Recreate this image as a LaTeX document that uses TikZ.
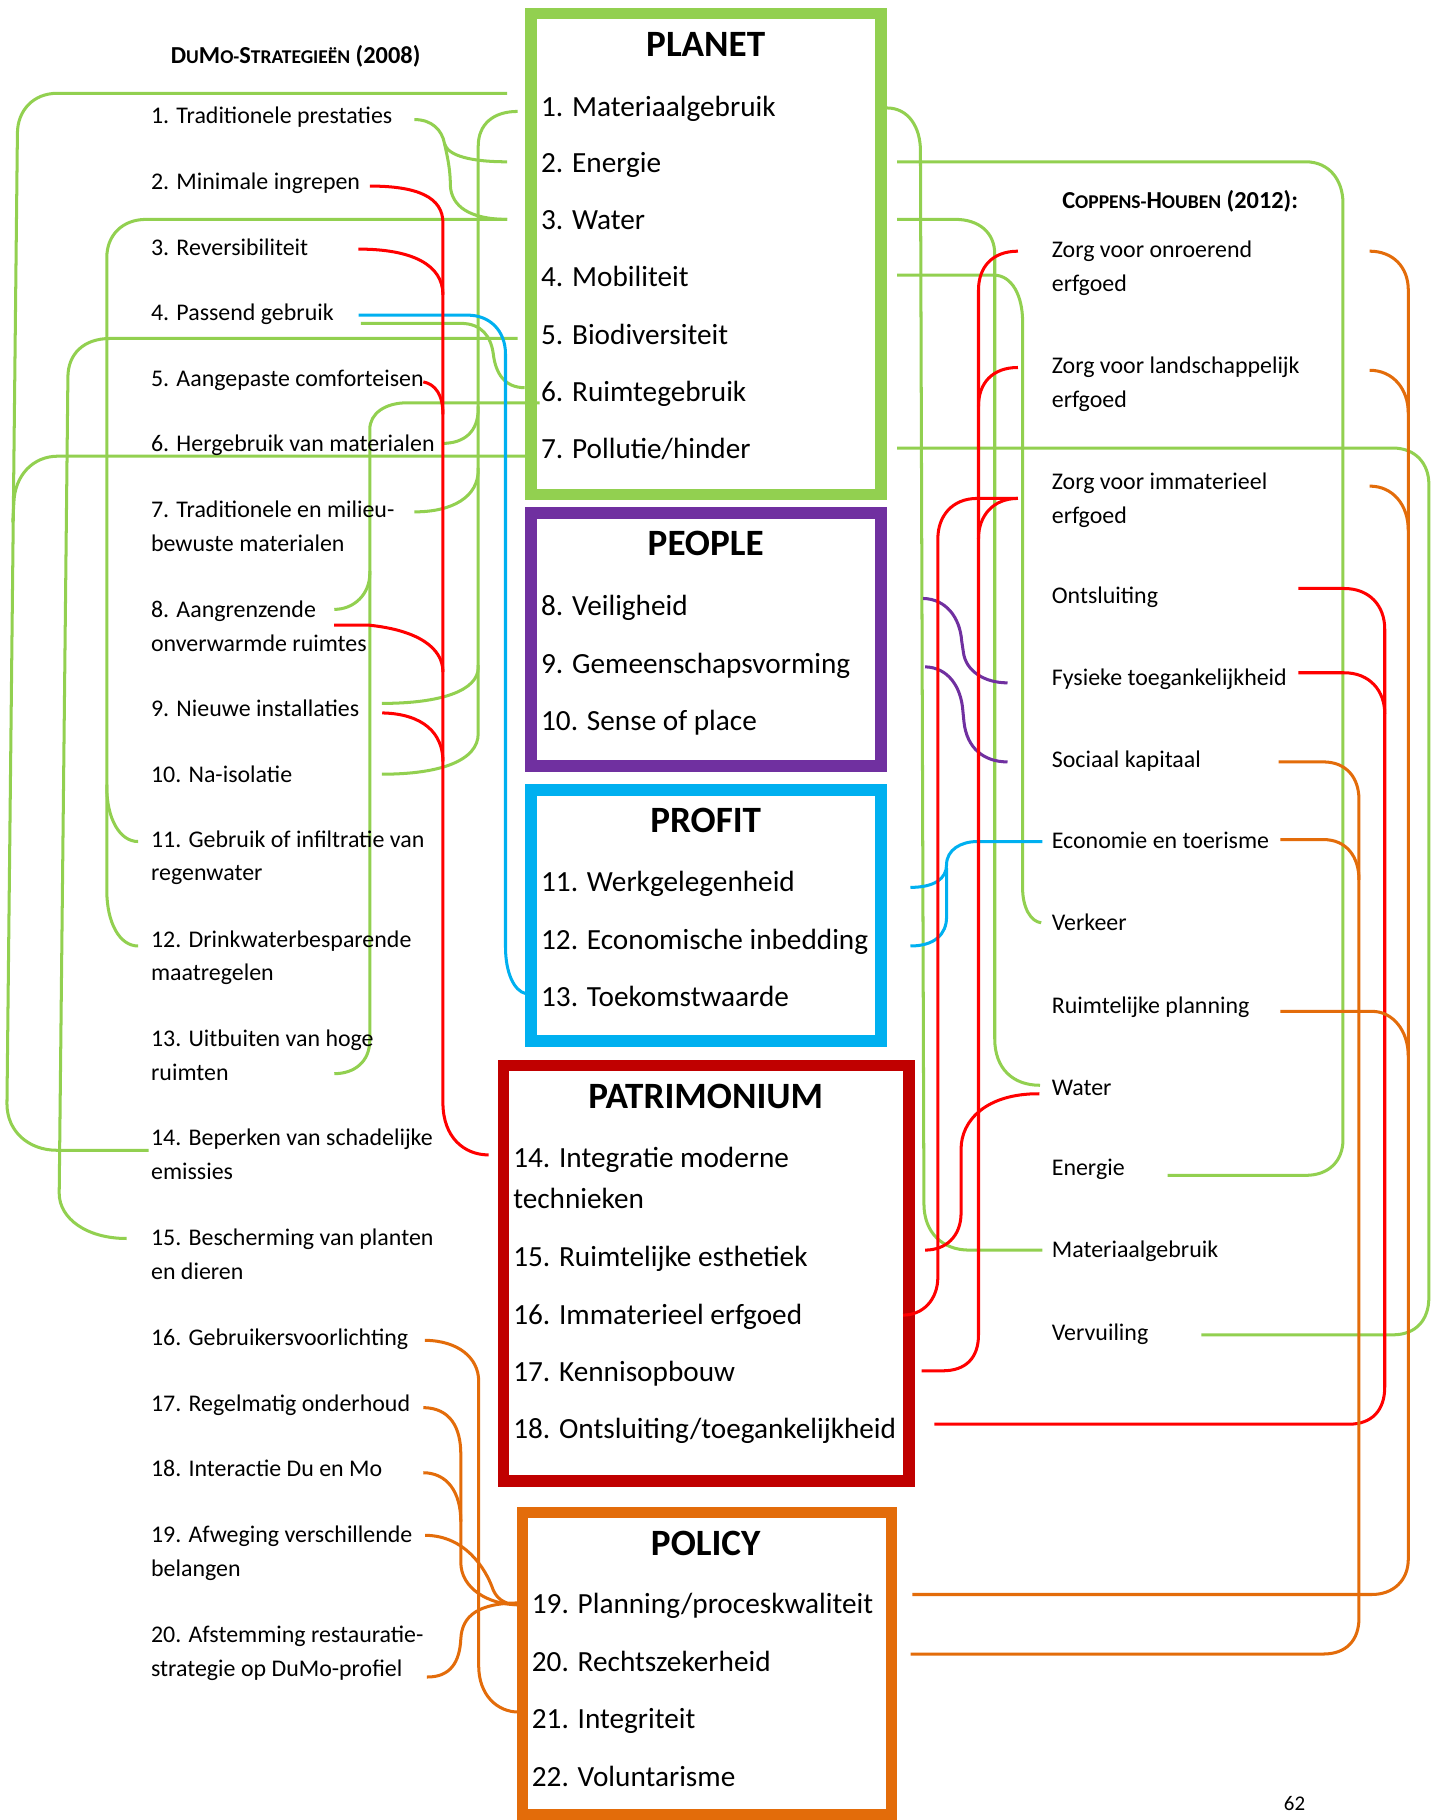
\documentclass[tikz,border=0pt]{standalone}
\usepackage{fontspec}
\setmainfont{Carlito}
\definecolor{cgreen}{HTML}{92D050}
\definecolor{cpurple}{HTML}{7030A0}
\definecolor{ccyan}{HTML}{00B0F0}
\definecolor{cdarkred}{HTML}{C00000}
\definecolor{corange}{HTML}{E36C0A}
\definecolor{cred}{HTML}{FF0000}
\newcommand\smc[1]{{\fontsize{16.8}{16.8}\selectfont #1}}
\newcommand\twol[2]{\vtop{\hbox{#1}\hbox{#2}}}
\begin{document}
\begin{tikzpicture}[x=1pt,y=-1pt,
  frame/.style={line width=10pt},
  conn/.style={line width=2.6pt},
  gline/.style={conn,draw=cgreen},
  rline/.style={conn,draw=cred},
  cline/.style={conn,draw=ccyan},
  pline/.style={conn,draw=cpurple},
  oline/.style={conn,draw=corange},
  lbl/.style={anchor=base west,inner sep=0pt,font=\fontsize{20.6}{29}\selectfont},
  bitem/.style={anchor=base west,inner sep=0pt,font=\fontsize{25.2}{35}\selectfont},
  btitle/.style={anchor=base,inner sep=0pt,font=\bfseries\fontsize{32}{32}\selectfont},
  hdr/.style={anchor=base west,inner sep=0pt,font=\bfseries\fontsize{21}{21}\selectfont}]
\fill[white] (0,0) rectangle (1241,1568);
\useasboundingbox (0,0) rectangle (1241,1568);

% ---------- the five category frames ----------
\draw[frame,draw=cgreen]   (457.5,11.7) rectangle (759,426);
\draw[frame,draw=cpurple]  (457.5,442)  rectangle (759,660);
\draw[frame,draw=ccyan]    (457.5,680.6) rectangle (759,896.6);
\draw[frame,draw=cdarkred] (433.7,918)  rectangle (783,1276);
\draw[frame,draw=corange]  (450.2,1303) rectangle (768,1563.5);

% ---------- connector end points ----------
% DuMo strategies (left list)
\coordinate (tr1) at (357,103);   \coordinate (tr2) at (318.6,160.3);
\coordinate (tr3) at (308.7,214.6); \coordinate (tr4g) at (311,278.6);
\coordinate (tr4c) at (309,271.5); \coordinate (tr5) at (364.7,329);
\coordinate (tr6) at (381,382);   \coordinate (tr7) at (357,441);
\coordinate (tr8g) at (288,525);  \coordinate (tr8r) at (287.8,538.6);
\coordinate (tr9g) at (329,606);  \coordinate (tr9r) at (329.3,614.2);
\coordinate (tr10) at (329,667);  \coordinate (tr11) at (119,725);
\coordinate (tr12) at (119,815);  \coordinate (tr13) at (288,925);
\coordinate (tr14) at (128,991);  \coordinate (tr15) at (109,1067);
\coordinate (tr16) at (366,1154.7); \coordinate (tr17) at (364.7,1212.7);
\coordinate (tr18) at (364.7,1268.8); \coordinate (tr19) at (366.3,1322.7);
\coordinate (tr20) at (367.8,1444.8);
% frame sides, left
\coordinate (pl0) at (437,80.4);  \coordinate (pl1) at (446,96);
\coordinate (pl2) at (437,139.4); \coordinate (pl3) at (437,189);
\coordinate (pl5) at (446,291.6); \coordinate (pl6a) at (452,334);
\coordinate (pl6b) at (465,347);  \coordinate (pl7) at (462,393);
\coordinate (pf13) at (453,856);  \coordinate (pa14) at (421,995);
\coordinate (po19) at (447,1382.6); \coordinate (po19b) at (447,1381);
\coordinate (po21) at (447,1475);
% frame sides, right
\coordinate (pr1) at (764,93);    \coordinate (pr2) at (773,139.4);
\coordinate (pr3) at (773,189);   \coordinate (pr4) at (773,237);
\coordinate (pr7) at (773,386);
\coordinate (pe8) at (795.3,515.6); \coordinate (pe9) at (797,574.5);
\coordinate (pf11) at (784.4,764.5); \coordinate (pf12) at (784.4,815);
\coordinate (pa15) at (797,1077); \coordinate (pa16) at (778,1133);
\coordinate (pa17) at (794,1181); \coordinate (pa18) at (805,1227);
\coordinate (po19r) at (786,1373.7); \coordinate (po20r) at (784.6,1425);
% Coppens-Houben (right list)
\coordinate (cr1r) at (877,216.4); \coordinate (cr1o) at (1180,216.4);
\coordinate (cr2r) at (877,316.6); \coordinate (cr2o) at (1180,319);
\coordinate (cr3r) at (877,429.4); \coordinate (cr3o) at (1180,418.8);
\coordinate (cr4) at (1118.5,507); \coordinate (cr5) at (1118.5,579.6);
\coordinate (cr5p) at (868,588.3); \coordinate (cr6p) at (868,656.4);
\coordinate (cr6o) at (1101.6,656.4); \coordinate (cr7c) at (898,725);
\coordinate (cr7o) at (1103,723.3); \coordinate (cr8) at (897,795);
\coordinate (cr9) at (1103,871.3); \coordinate (cr10g) at (896,935);
\coordinate (cr10r) at (895.4,942.3); \coordinate (cr11) at (1006,1012.6);
\coordinate (cr12) at (898,1077); \coordinate (cr13) at (1035,1150);

% ---------- left: green ----------
\draw[gline] (pl0) -- (49,80.4) .. controls (29,80.4) and (15,95) .. (15,115)
  -- (6,951) .. controls (6,975) and (25,991) .. (49,991) -- (tr14);
\draw[gline] (pl7) -- (50,393) .. controls (28,393) and (13,410) .. (12,432) -- (11,450);
\draw[gline] (pl3) -- (126,189) .. controls (105,189) and (92,203) .. (92,222)
  -- (92,678) .. controls (92,705) and (103,725) .. (tr11);
\draw[gline] (92,676) -- (92,767) .. controls (92,795) and (103,815) .. (tr12);
\draw[gline] (tr1) .. controls (372,103) and (381,112) .. (383,124)
  .. controls (386,134) and (405,139.4) .. (pl2);
\draw[gline] (383,124) .. controls (385,133) and (388,145) .. (388,160)
  .. controls (389,178) and (405,189) .. (pl3);
\draw[gline] (pl1) .. controls (425,96) and (412,107) .. (412,126)
  -- (412,352) .. controls (412,372) and (400,382) .. (tr6);
\draw[gline] (412,350) -- (412,405) .. controls (412,428) and (390,441) .. (tr7);
\draw[gline] (412,403) -- (412,575) .. controls (412,595) and (380,606) .. (tr9g);
\draw[gline] (412,573) -- (412,632) .. controls (412,655) and (380,667) .. (tr10);
\draw[gline] (pl6b) -- (351,347) .. controls (332,347) and (318.6,356) .. (318.6,370)
  -- (318.6,494) .. controls (318.6,512) and (305,525) .. (tr8g);
\draw[gline] (318.6,492) -- (318.6,896) .. controls (318.6,915) and (305,925) .. (tr13);
\draw[gline] (pl5) -- (95,291.6) .. controls (72,291.6) and (58.5,305) .. (58.5,325)
  -- (51,1028) .. controls (51,1050) and (75,1067) .. (tr15);
\draw[gline] (tr4g) -- (397,278.6) .. controls (415,278.6) and (423,290) .. (425,305)
  .. controls (427,322) and (435,334) .. (pl6a);

% ---------- left: cyan ----------
\draw[cline] (tr4c) -- (403,271.5) .. controls (422,271.5) and (435.5,285) .. (435.5,305)
  -- (435.5,816) .. controls (435.5,838) and (443,854) .. (pf13);

% ---------- left: red ----------
\draw[rline] (tr2) .. controls (360,160.3) and (381.6,170) .. (381.6,192)
  -- (381.6,950) .. controls (381.6,980) and (400,995) .. (pa14);
\draw[rline] (tr3) .. controls (355,214.6) and (381.6,228) .. (381.6,254);
\draw[rline] (tr5) .. controls (375,331) and (381.6,340) .. (381.6,357);
\draw[rline] (tr8r) -- (318,538.6) .. controls (360,543) and (381.6,558) .. (381.6,579);
\draw[rline] (tr9r) .. controls (365,615) and (381.6,632) .. (381.6,656);

% ---------- left: orange ----------
\draw[oline] (tr16) .. controls (395,1155) and (412.4,1170) .. (412.4,1190)
  -- (412.4,1435) .. controls (412.4,1460) and (428,1475) .. (po21);
\draw[oline] (tr17) .. controls (388,1213) and (397,1230) .. (397,1253)
  -- (397,1346) .. controls (397,1368) and (420,1382.6) .. (po19);
\draw[oline] (tr18) .. controls (385,1269) and (397,1285) .. (397,1311);
\draw[oline] (tr19) .. controls (400,1323) and (418,1350) .. (425,1370)
  .. controls (429,1379) and (437,1382.6) .. (po19);
\draw[oline] (tr20) .. controls (388,1445) and (396,1432) .. (397,1412)
  .. controls (398,1392) and (412,1381) .. (po19b);

% ---------- right: green ----------
\draw[gline] (pr1) .. controls (783,93) and (793,110) .. (793,130)
  -- (796,1037) .. controls (796,1062) and (812,1077) .. (835,1077) -- (cr12);
\draw[gline] (pr2) -- (1125,139.4) .. controls (1145,139.4) and (1157,155) .. (1157,175)
  -- (1157,982) .. controls (1157,1000) and (1145,1012.6) .. (1125,1012.6) -- (cr11);
\draw[gline] (pr3) -- (823,189) .. controls (843,189) and (857,200) .. (857,219)
  -- (857,895) .. controls (857,920) and (872,935) .. (cr10g);
\draw[gline] (pr4) -- (856,237) .. controls (872,237) and (881,255) .. (881,277)
  -- (881,765) .. controls (881,782) and (888,794) .. (cr8);
\draw[gline] (pr7) -- (1200,386) .. controls (1220,386) and (1231,400) .. (1231,417)
  -- (1231,1118) .. controls (1231,1137) and (1220,1150) .. (1200,1150) -- (cr13);

% ---------- right: purple ----------
\draw[pline] (pe8) .. controls (815,516) and (827,532) .. (828.5,552) -- (830,562)
  .. controls (832,578) and (848,588.3) .. (cr5p);
\draw[pline] (pe9) .. controls (817,575) and (828,592) .. (829.5,612) -- (830.5,622)
  .. controls (833,645) and (848,656.4) .. (cr6p);

% ---------- right: cyan ----------
\draw[cline] (pf11) .. controls (805,764.5) and (815.5,757) .. (815.5,745)
  .. controls (815.5,732) and (828,725) .. (842,725) -- (cr7c);
\draw[cline] (pf12) .. controls (805,815) and (815.5,805) .. (815.5,790) -- (815.5,748);

% ---------- right: red ----------
\draw[rline] (cr1r) .. controls (855,216.4) and (843,230) .. (843,250)
  -- (843,1150) .. controls (843,1170) and (832,1181) .. (812,1181) -- (pa17);
\draw[rline] (cr2r) .. controls (855,316.6) and (843,330) .. (843,350);
\draw[rline] (cr3r) .. controls (855,429.4) and (843,445) .. (843,464);
\draw[rline] (cr3r) -- (842,429.4) .. controls (820,429.4) and (808,445) .. (808,464)
  -- (808,1100) .. controls (808,1120) and (795,1133) .. (pa16);
\draw[rline] (cr10r) .. controls (850,942) and (828,965) .. (828,990)
  -- (828,1045) .. controls (828,1065) and (815,1077) .. (pa15);
\draw[rline] (cr4) -- (1158,507) .. controls (1180,507) and (1193,522) .. (1193,542)
  -- (1193,1195) .. controls (1193,1215) and (1182,1227) .. (1162,1227) -- (pa18);
\draw[rline] (cr5) -- (1158,579.6) .. controls (1180,579.6) and (1193,595) .. (1193,615);

% ---------- right: orange ----------
\draw[oline] (cr1o) .. controls (1200,216.4) and (1213.3,230) .. (1213.3,250)
  -- (1213.3,1343) .. controls (1213.3,1362) and (1200,1373.7) .. (1182,1373.7) -- (po19r);
\draw[oline] (cr2o) .. controls (1200,319) and (1213.3,335) .. (1213.3,356);
\draw[oline] (cr3o) .. controls (1200,418.8) and (1213.3,435) .. (1213.3,457);
\draw[oline] (cr9) -- (1182,871.3) .. controls (1200,871.3) and (1213.3,888) .. (1213.3,910);
\draw[oline] (cr6o) -- (1140,656.4) .. controls (1160,656.4) and (1170.8,670) .. (1170.8,689)
  -- (1170.8,1394) .. controls (1170.8,1413) and (1160,1425) .. (1140,1425) -- (po20r);
\draw[oline] (cr7o) -- (1140,723.3) .. controls (1160,723.3) and (1170.8,738) .. (1170.8,758);

% ---------- headers ----------
\node[hdr] (hdrL) at (147,55) {D\smc{U}M\smc{O-}S\smc{TRATEGIEËN} (2008)};
\node[hdr] (hdrR) at (915,180) {C\smc{OPPENS-}H\smc{OUBEN} (2012):};

% ---------- left list ----------
\node[lbl] (l1)  at (130,106)  {1. Traditionele prestaties};
\node[lbl] (l2)  at (130,163)  {2. Minimale ingrepen};
\node[lbl] (l3)  at (130,220)  {3. Reversibiliteit};
\node[lbl] (l4)  at (130,276)  {4. Passend gebruik};
\node[lbl] (l5)  at (130,333)  {5. Aangepaste comforteisen};
\node[lbl] (l6)  at (130,389)  {6. Hergebruik van materialen};
\node[lbl] (l7)  at (130,446)  {\twol{7. Traditionele en milieu-}{bewuste materialen}};
\node[lbl] (l8)  at (130,532)  {\twol{8. Aangrenzende}{onverwarmde ruimtes}};
\node[lbl] (l9)  at (130,617)  {9. Nieuwe installaties};
\node[lbl] (l10) at (130,674)  {10. Na-isolatie};
\node[lbl] (l11) at (130,730)  {\twol{11. Gebruik of infiltratie van}{regenwater}};
\node[lbl] (l12) at (130,816)  {\twol{12. Drinkwaterbesparende}{maatregelen}};
\node[lbl] (l13) at (130,902)  {\twol{13. Uitbuiten van hoge}{ruimten}};
\node[lbl] (l14) at (130,987)  {\twol{14. Beperken van schadelijke}{emissies}};
\node[lbl] (l15) at (130,1073) {\twol{15. Bescherming van planten}{en dieren}};
\node[lbl] (l16) at (130,1159) {16. Gebruikersvoorlichting};
\node[lbl] (l17) at (130,1216) {17. Regelmatig onderhoud};
\node[lbl] (l18) at (130,1272) {18. Interactie Du en Mo};
\node[lbl] (l19) at (130,1329) {\twol{19. Afweging verschillende}{belangen}};
\node[lbl] (l20) at (130,1415) {\twol{20. Afstemming restauratie-}{strategie op DuMo-profiel}};

% ---------- right list ----------
\node[lbl] (r1)  at (906,222)  {\twol{Zorg voor onroerend}{erfgoed}};
\node[lbl] (r2)  at (906,322)  {\twol{Zorg voor landschappelijk}{erfgoed}};
\node[lbl] (r3)  at (906,422)  {\twol{Zorg voor immaterieel}{erfgoed}};
\node[lbl] (r4)  at (906,520)  {Ontsluiting};
\node[lbl] (r5)  at (906,591)  {Fysieke toegankelijkheid};
\node[lbl] (r6)  at (906,661)  {Sociaal kapitaal};
\node[lbl] (r7)  at (906,731)  {Economie en toerisme};
\node[lbl] (r8)  at (906,802)  {Verkeer};
\node[lbl] (r9)  at (906,873)  {Ruimtelijke planning};
\node[lbl] (r10) at (906,944)  {Water};
\node[lbl] (r11) at (906,1013) {Energie};
\node[lbl] (r12) at (906,1083) {Materiaalgebruik};
\node[lbl] (r13) at (906,1155) {Vervuiling};

% ---------- frame contents ----------
\node[btitle] (tPlanet) at (608,49) {PLANET};
\node[bitem] (b1) at (466,100)  {1. Materiaalgebruik};
\node[bitem] (b2) at (466,149) {2. Energie};
\node[bitem] (b3) at (466,198) {3. Water};
\node[bitem] (b4) at (466,247) {4. Mobiliteit};
\node[bitem] (b5) at (466,297) {5. Biodiversiteit};
\node[bitem] (b6) at (466,346) {6. Ruimtegebruik};
\node[bitem] (b7) at (466,395) {7. Pollutie/hinder};

\node[btitle] (tPeople) at (608,479) {PEOPLE};
\node[bitem] (b8)  at (466,530) {8. Veiligheid};
\node[bitem] (b9)  at (466,580) {9. Gemeenschapsvorming};
\node[bitem] (b10) at (466,629) {10. Sense of place};

\node[btitle] (tProfit) at (608,717) {PROFIT};
\node[bitem] (b11) at (466,768) {11. Werkgelegenheid};
\node[bitem] (b12) at (466,818) {12. Economische inbedding};
\node[bitem] (b13) at (466,867) {13. Toekomstwaarde};

\node[btitle] (tPatri) at (608,955) {PATRIMONIUM};
\node[bitem] (b14) at (442,1006) {\twol{14. Integratie moderne}{technieken}};
\node[bitem] (b15) at (442,1091) {15. Ruimtelijke esthetiek};
\node[bitem] (b16) at (442,1141) {16. Immaterieel erfgoed};
\node[bitem] (b17) at (442,1190) {17. Kennisopbouw};
\node[bitem] (b18) at (442,1239) {18. Ontsluiting/toegankelijkheid};

\node[btitle] (tPolicy) at (608,1340) {POLICY};
\node[bitem] (b19) at (458,1390) {19. Planning/proceskwaliteit};
\node[bitem] (b20) at (458,1440) {20. Rechtszekerheid};
\node[bitem] (b21) at (458,1489) {21. Integriteit};
\node[bitem] (b22) at (458,1539) {22. Voluntarisme};

% page number near the lower edge
\node[anchor=south west,inner sep=0pt,font=\fontsize{18}{20}\selectfont] (pg) at (1106,1560) {62};
\end{tikzpicture}
\end{document}
